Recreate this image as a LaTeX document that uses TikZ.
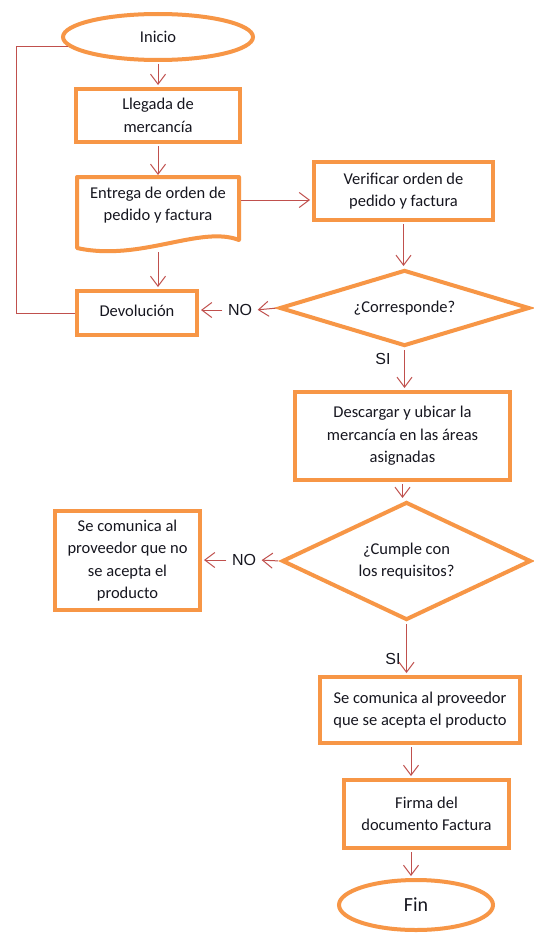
\documentclass[tikz,border=0pt]{standalone}
\usepackage{fontspec}
\setmainfont{Carlito}
\newfontfamily\labelfont{Liberation Sans}
\usetikzlibrary{shapes.geometric,arrows.meta}
\definecolor{boxorange}{HTML}{F79646}
\definecolor{linkred}{HTML}{C0504D}
\definecolor{ink}{HTML}{16161F}

\begin{document}
\begin{tikzpicture}[x=1pt,y=-1pt,
  every node/.style={text=ink},
  proc/.style={draw=boxorange, line width=4pt, fill=white, rectangle,
    align=center, inner sep=0pt, font=\fontsize{16.5}{22.5}\selectfont},
  terminal/.style={draw=boxorange, line width=4pt, fill=white, ellipse,
    inner sep=0pt},
  decision/.style={draw=boxorange, line width=4pt, fill=white, diamond,
    inner sep=0pt, align=center, font=\fontsize{16.5}{22.5}\selectfont},
  flow/.style={draw=linkred, line width=1pt,
    -{Straight Barb[length=10pt,width=15pt]}, shorten >=2pt, shorten <=2pt},
  loopline/.style={draw=linkred, line width=1pt},
  branchlabel/.style={font=\labelfont\fontsize{16}{18}\selectfont, inner sep=3.5pt}
]
% canvas
\fill[white] (0,0) rectangle (533,934);
\useasboundingbox (0,0) rectangle (533,934);

% left column
\node[terminal, minimum width=190pt, minimum height=46pt,
  font=\fontsize{16.5}{20}\selectfont] (ini) at (158,37) {Inicio};
\node[proc, minimum width=164pt, minimum height=53pt] (lleg) at (158,115.5)
  {Llegada de\\mercancía};

% document symbol with wavy bottom edge
\draw[draw=boxorange, line width=4pt, fill=white, line join=round]
  (77,177) -- (239,177) -- (239,240)
  .. controls (200,225) and (140,262) .. (77,248) -- cycle;
\node[align=center, inner sep=0pt, font=\fontsize{16.5}{22.5}\selectfont]
  (ent) at (158,205) {Entrega de orden de\\pedido y factura};
\coordinate (entT) at (158,177);
\coordinate (entR) at (239,200);
\coordinate (entB) at (158,250);

\node[proc, minimum width=120pt, minimum height=44pt, text depth=4pt]
  (dev) at (137,313) {Devolución};

% right column
\node[proc, minimum width=179pt, minimum height=58pt] (ver) at (403.5,191)
  {Verificar orden de\\pedido y factura};
\node[decision, shape aspect=3.3, minimum width=250pt, minimum height=76pt]
  (corr) at (404.5,308) {¿Corresponde?};
\node[branchlabel] (noA) at (240,310) {NO};
\node[branchlabel] (siA) at (383,359) {SI};

\node[proc, minimum width=215pt, minimum height=88pt] (desc) at (402.5,436)
  {Descargar y ubicar la\\mercancía en las áreas\\asignadas};
\node[decision, shape aspect=2.1, minimum width=249pt, minimum height=118pt]
  (cump) at (406.5,561) {¿Cumple con\\los requisitos?};
\node[branchlabel] (noB) at (244,560) {NO};
\node[proc, minimum width=145pt, minimum height=99pt] (rej) at (127.5,560.5)
  {Se comunica al\\proveedor que no\\se acepta el\\producto};
\node[branchlabel] (siB) at (393,659) {SI};

\node[proc, minimum width=200pt, minimum height=66pt] (acep) at (420,710)
  {Se comunica al proveedor\\que se acepta el producto};
\node[proc, minimum width=165pt, minimum height=68pt] (firma) at (426.5,814)
  {Firma del\\documento Factura};
\node[terminal, minimum width=154pt, minimum height=50pt,
  font=\fontsize{20}{24}\selectfont] (fin) at (416,905) {Fin};

% connectors
\coordinate (lp) at (16,0);
\coordinate (col) at (411,0);
\draw[flow] (ini.south) -- (lleg.north);
\draw[flow] (lleg.south) -- (entT);
\draw[flow] (entB) -- (entB |- dev.north);
\draw[flow] (entR) -- (entR -| ver.west);
\draw[loopline] (dev.west) -- (lp |- dev.west) -- (lp |- ini.186) -- (ini.186);
\draw[flow] (ver.south) -- (ver.south |- corr.north);
\draw[flow] (corr.west) -- (noA.east);
\draw[flow] (noA.west) -- (noA.west -| dev.east);
\draw[flow] (corr.south) -- (corr.south |- desc.north);
\draw[flow] (desc.south) -- (desc.south |- cump.north);
\draw[flow] (cump.west) -- (noB.east);
\draw[flow] (noB.west) -- (noB.west -| rej.east);
\draw[flow] (cump.south) -- (cump.south |- acep.north);
\draw[flow] (col |- acep.south) -- (col |- firma.north);
\draw[flow] (col |- firma.south) -- (col |- fin.north);
\end{tikzpicture}
\end{document}
